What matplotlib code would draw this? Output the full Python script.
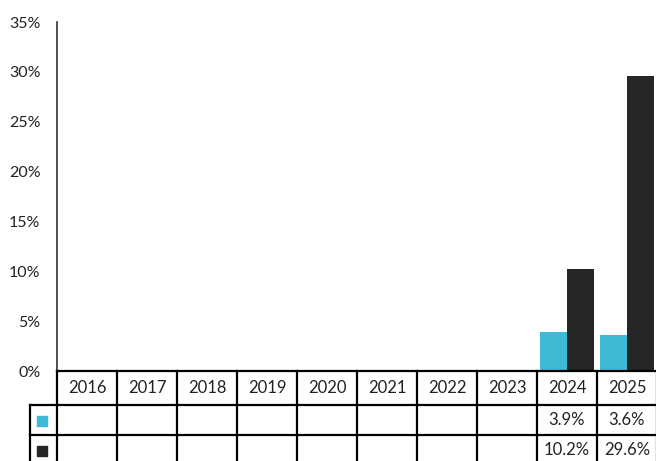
import matplotlib
matplotlib.use("Agg")
import matplotlib.pyplot as plt
import numpy as np

plt.rcParams['font.family'] = ['Lato', 'DejaVu Sans']

years = ['2016', '2017', '2018', '2019', '2020', '2021', '2022', '2023', '2024', '2025']
cyan_vals = [None, None, None, None, None, None, None, None, 3.9, 3.6]
dark_vals = [None, None, None, None, None, None, None, None, 10.2, 29.6]
y_ticks = [0, 5, 10, 15, 20, 25, 30, 35]

cyan = '#3fbad6'
dark = '#262626'
W, H = 656, 461

fig = plt.figure(figsize=(W / 100, H / 100), dpi=100)
left = 57 / W
width = 600 / W
ax = fig.add_axes([left, 90 / H, width, 349 / H])

x = np.arange(len(years))
bw = 0.45
for i in range(len(years)):
    if cyan_vals[i] is not None:
        ax.bar(x[i] - bw / 2, cyan_vals[i], bw, color=cyan)
    if dark_vals[i] is not None:
        ax.bar(x[i] + bw / 2, dark_vals[i], bw, color=dark)

ax.set_xlim(-0.5, len(years) - 0.5)
ax.set_ylim(0, 35)
ax.set_yticks(y_ticks)
ax.set_yticklabels([f'{t}%' for t in y_ticks], fontsize=11.5, color='#222222')
ax.tick_params(axis='y', length=0, pad=12)
ax.set_xticks([])
for s in ['top', 'right', 'bottom']:
    ax.spines[s].set_visible(False)
ax.spines['left'].set_color('#333333')
ax.spines['left'].set_linewidth(1.2)

# table below the plot, same x scale, y in pixels
tab = fig.add_axes([left, 0, width, 90 / H])
tab.set_xlim(-0.5, len(years) - 0.5)
tab.set_ylim(0, 90)
tab.axis('off')
lw = 1.6
n = len(years)
leg_x = -0.5 - 27 / 60
tab.plot([-0.5, n - 0.5], [90, 90], color='black', lw=lw, clip_on=False)
tab.plot([leg_x, n - 0.5], [56, 56], color='black', lw=lw, clip_on=False)
tab.plot([leg_x, n - 0.5], [26, 26], color='black', lw=lw, clip_on=False)
for k in range(n + 1):
    tab.plot([k - 0.5, k - 0.5], [90, -5], color='black', lw=lw, clip_on=False)
tab.plot([leg_x, leg_x], [56, -5], color='black', lw=lw, clip_on=False)

for i, yr in enumerate(years):
    tab.text(i, 73, yr, ha='center', va='center', fontsize=12, color='#222222')
    if cyan_vals[i] is not None:
        tab.text(i, 41, f'{cyan_vals[i]}%', ha='center', va='center', fontsize=12, color='#222222')
    if dark_vals[i] is not None:
        tab.text(i, 11, f'{dark_vals[i]}%', ha='center', va='center', fontsize=12, color='#222222')

mx = -0.5 - 15 / 60
tab.scatter([mx], [40.5], marker='s', s=60, color=cyan, clip_on=False)
tab.scatter([mx], [10.5], marker='s', s=60, color=dark, clip_on=False)

fig.savefig('out.png', dpi=100)
